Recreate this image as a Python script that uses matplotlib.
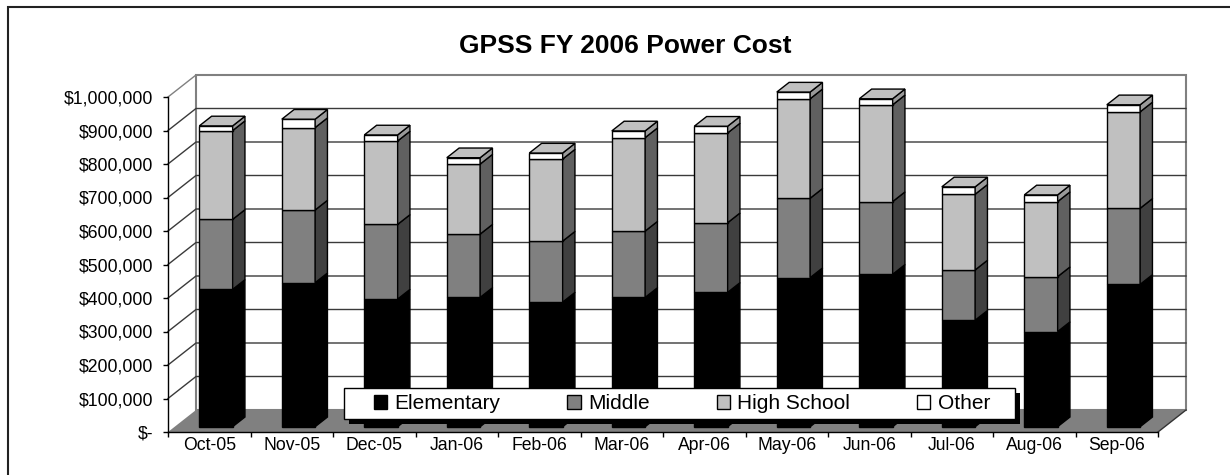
import numpy as np
import matplotlib
matplotlib.use('Agg')
import matplotlib.pyplot as plt
from matplotlib.patches import Polygon, Rectangle, Patch
from matplotlib.ticker import FuncFormatter

# ---------------- data ----------------
months = ['Oct-05', 'Nov-05', 'Dec-05', 'Jan-06', 'Feb-06', 'Mar-06',
          'Apr-06', 'May-06', 'Jun-06', 'Jul-06', 'Aug-06', 'Sep-06']
elementary = [410000, 430000, 381000, 386000, 372000, 386000,
              401000, 445000, 455000, 318000, 284000, 425000]
middle = [209000, 217000, 223000, 189000, 182000, 198000,
          208000, 237000, 217000, 150000, 164000, 227000]
high_school = [265000, 246000, 249000, 209000, 245000, 279000,
               268000, 297000, 289000, 226000, 224000, 288000]
other = [14000, 25000, 18000, 19000, 18000, 20000,
         20000, 20000, 18000, 22000, 20000, 21000]
series_names = ['Elementary', 'Middle', 'High School', 'Other']
y_ticks = [0, 100000, 200000, 300000, 400000, 500000,
           600000, 700000, 800000, 900000, 1000000]
title = 'GPSS FY 2006 Power Cost'

# ---------------- style ----------------
plt.rcParams['font.family'] = ['Liberation Sans', 'DejaVu Sans']
W, H = 1230, 475
fig = plt.figure(figsize=(W / 100, H / 100), dpi=100)
fig.patch.set_facecolor('white')

n = len(months)
cat_px = 82.5                 # pixels per category
val_px = 335 / 1e6            # pixels per dollar
DX = 28 / cat_px              # depth offset in data units
DY = 22 / val_px
ymax = y_ticks[-1]

ax = fig.add_axes([168 / W, 43 / H, (990 + 28) / W, (335 + 22) / H])
x0, x1 = -0.5, n - 0.5
ax.set_xlim(x0, x1 + DX)
ax.set_ylim(0, ymax + DY)
ax.patch.set_visible(False)
for s in ['top', 'right']:
    ax.spines[s].set_visible(False)
ax.spines['left'].set_bounds(0, ymax)
ax.spines['bottom'].set_bounds(x0, x1)
for s in ['left', 'bottom']:
    ax.spines[s].set_linewidth(1.0)
    ax.spines[s].set_zorder(5)

# walls & floor
ax.add_patch(Rectangle((x0 + DX, DY), n, ymax, facecolor='white',
                       edgecolor='#808080', lw=1.5, zorder=0.5, clip_on=False))
ax.add_patch(Polygon([(x0, 0), (x0, ymax), (x0 + DX, ymax + DY), (x0 + DX, DY)],
                     closed=True, facecolor='white', edgecolor='none',
                     zorder=0.4, clip_on=False))
ax.add_patch(Polygon([(x0, 0), (x1, 0), (x1 + DX, DY), (x0 + DX, DY)],
                     closed=True, facecolor='#808080', edgecolor='none',
                     zorder=0.6, clip_on=False))
ax.plot([x1, x1 + DX], [0, DY], color='#333333', lw=1.0, zorder=0.7, clip_on=False)

for v in y_ticks[1:]:
    col = '#808080' if v == ymax else '#3a3a3a'
    ax.plot([x0, x0 + DX, x1 + DX], [v, v + DY, v + DY], color=col,
            lw=1.0, zorder=0.8, clip_on=False)

# bars
series = [elementary, middle, high_school, other]
face = ['#000000', '#808080', '#c0c0c0', '#ffffff']
side = ['#000000', '#404040', '#606060', '#9a9a9a']
top_color = '#c0c0c0'
w = 0.404
f0, f1 = 0.24, 0.68
xs = np.arange(n)
bottoms = np.zeros(n)
for k, vals in enumerate(series):
    vals = np.asarray(vals, dtype=float)
    ax.bar(xs + f0 * DX, vals, width=w, bottom=bottoms + f0 * DY,
           color=face[k], edgecolor='black', lw=1.0, zorder=2)
    for i in range(n):
        b, t = bottoms[i], bottoms[i] + vals[i]
        xr = xs[i] + w / 2
        ax.add_patch(Polygon([(xr + f0 * DX, b + f0 * DY), (xr + f1 * DX, b + f1 * DY),
                              (xr + f1 * DX, t + f1 * DY), (xr + f0 * DX, t + f0 * DY)],
                             closed=True, facecolor=side[k], edgecolor='black',
                             lw=1.0, zorder=2, clip_on=False))
    bottoms = bottoms + vals

for i in range(n):
    t = bottoms[i]
    xl, xr = xs[i] - w / 2, xs[i] + w / 2
    ax.add_patch(Polygon([(xl + f0 * DX, t + f0 * DY), (xr + f0 * DX, t + f0 * DY),
                          (xr + f1 * DX, t + f1 * DY), (xl + f1 * DX, t + f1 * DY)],
                         closed=True, facecolor=top_color, edgecolor='black',
                         lw=1.0, zorder=2.1, clip_on=False))

# ticks
ax.set_yticks(y_ticks)
ax.yaxis.set_major_formatter(FuncFormatter(lambda v, p: '$-' if v == 0 else f'${v:,.0f}'))
ax.tick_params(axis='y', direction='out', length=3.6, width=1.0, pad=7.2,
               labelsize=12.7, colors='black')
ax.set_xticks(np.arange(x0, x1 + 0.01, 1.0))
ax.set_xticklabels([])
ax.set_xticks(xs, months, minor=True)
ax.tick_params(axis='x', which='major', direction='out', length=3.6, width=1.0)
ax.tick_params(axis='x', which='minor', length=0, pad=3.6, labelsize=12.7)

# title
fig.text(625 / W, 1 - 53 / H, title, ha='center', va='baseline',
         fontsize=19, fontweight='bold')

# legend box with shadow
fig.add_artist(Rectangle((349 / W, 51 / H), 671 / W, 31 / H, transform=fig.transFigure,
                         facecolor='black', edgecolor='none', zorder=4))
fig.add_artist(Rectangle((344 / W, 56 / H), 671 / W, 31 / H, transform=fig.transFigure,
                         facecolor='white', edgecolor='black', lw=1.0, zorder=4.5))
handles = [Patch(facecolor=face[k], edgecolor='black', lw=1.0) for k in range(4)]
leg = fig.legend(handles, series_names, ncol=4, frameon=False, loc='center',
                 bbox_to_anchor=(682 / W, 71.5 / H), fontsize=15,
                 handlelength=0.65, handleheight=0.65, handletextpad=0.35,
                 columnspacing=3.2, borderpad=0.1)
leg.set_zorder(6)

# outer frame
fig.add_artist(Rectangle((8 / W, -0.2), 1.3, 1.2 - 7 / H, transform=fig.transFigure,
                         fill=False, edgecolor='#222222', lw=1.5, zorder=10))

fig.savefig('out.png', dpi=100)
